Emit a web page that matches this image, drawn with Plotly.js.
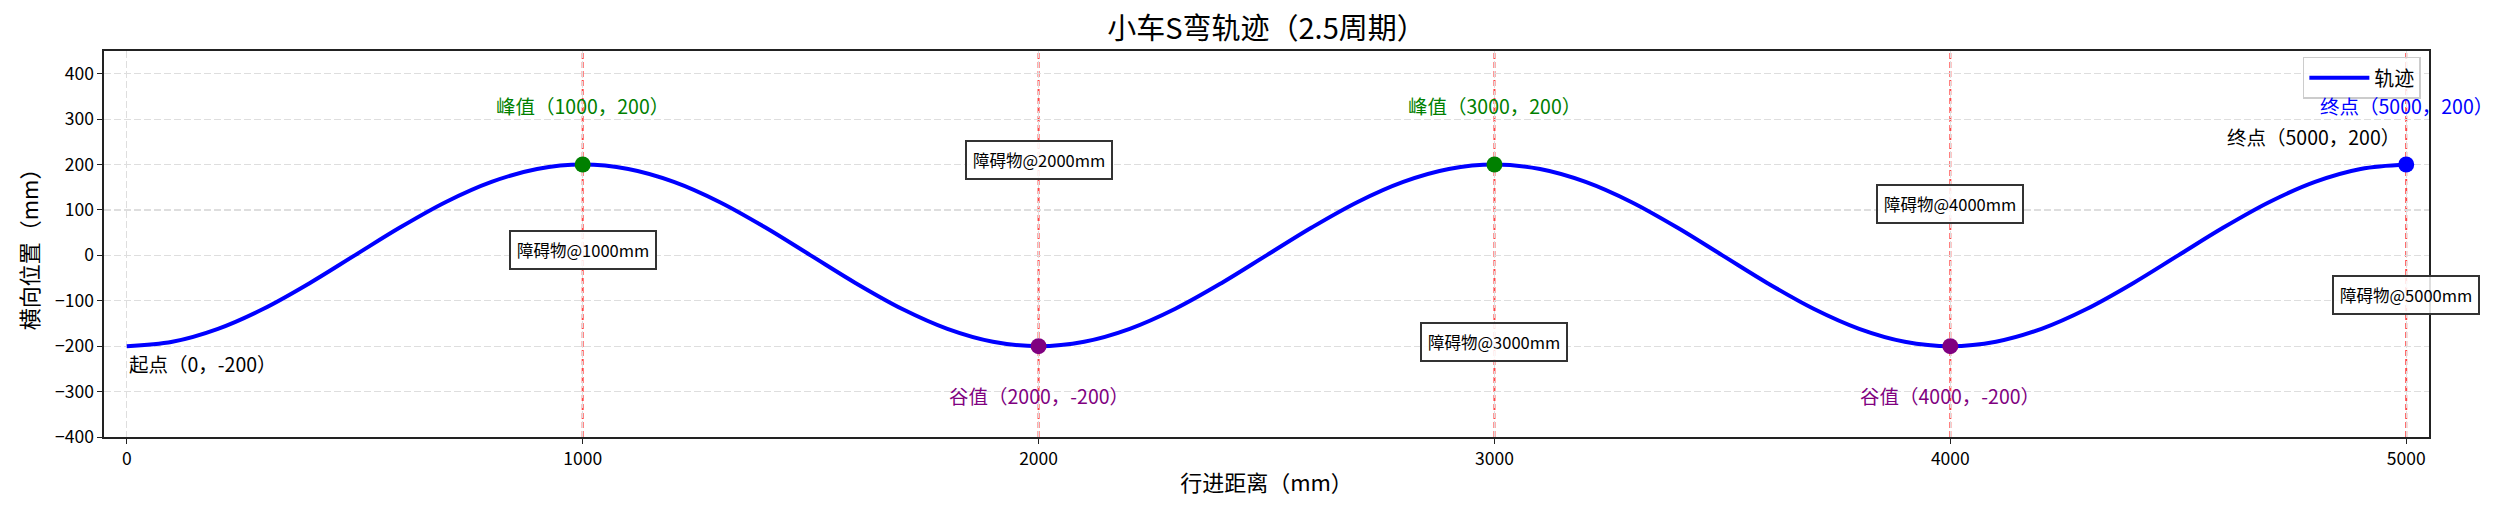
<!DOCTYPE html>
<html>
<head>
<meta charset="utf-8">
<script src="https://cdn.plot.ly/plotly-3.0.1.min.js"></script>
<style>html,body{margin:0;padding:0;background:#fff;}</style>
</head>
<body>
<div id="chart" style="width:2502px;height:517px;"></div>
<script>
// Trajectory samples (mm)
const trackX = [0,100,200,300,400,500,600,700,800,900,1000,1100,1200,1300,1400,1500,1600,1700,1800,1900,2000,2100,2200,2300,2400,2500,2600,2700,2800,2900,3000,3100,3200,3300,3400,3500,3600,3700,3800,3900,4000,4100,4200,4300,4400,4500,4600,4700,4800,4900,5000];
const trackY = [-200,-190.2,-161.8,-117.6,-61.8,0,61.8,117.6,161.8,190.2,200,190.2,161.8,117.6,61.8,0,-61.8,-117.6,-161.8,-190.2,-200,-190.2,-161.8,-117.6,-61.8,0,61.8,117.6,161.8,190.2,200,190.2,161.8,117.6,61.8,0,-61.8,-117.6,-161.8,-190.2,-200,-190.2,-161.8,-117.6,-61.8,0,61.8,117.6,161.8,190.2,200];

const peakX = [1000, 3000];
const peakY = [200, 200];
const valleyX = [2000, 4000];
const valleyY = [-200, -200];
const endX = [5000];
const endY = [200];

const obstacleX = [1000, 2000, 3000, 4000, 5000];
const obstacleLabelY = [12, 210, -190, 112, -88];
const obstacleLabels = ['障碍物@1000mm','障碍物@2000mm','障碍物@3000mm','障碍物@4000mm','障碍物@5000mm'];

const peakLabels = ['峰值（1000，200）','峰值（3000，200）'];
const peakLabelY = [331, 331];
const valleyLabels = ['谷值（2000，-200）','谷值（4000，-200）'];
const valleyLabelY = [-309, -309];

const xTicks = [0, 1000, 2000, 3000, 4000, 5000];
const yTicks = [-400, -300, -200, -100, 0, 100, 200, 300, 400];

const FONT = '"Noto Sans CJK SC", "Noto Sans", sans-serif';
const ANN = 19.5;

const traces = [
  {x: trackX, y: trackY, type: 'scatter', mode: 'lines', name: '轨迹',
   line: {color: '#0000ff', width: 4, shape: 'spline', smoothing: 1.0}},
  {x: peakX, y: peakY, type: 'scatter', mode: 'markers', showlegend: false,
   marker: {color: '#008000', size: 16}},
  {x: valleyX, y: valleyY, type: 'scatter', mode: 'markers', showlegend: false,
   marker: {color: '#800080', size: 16}},
  {x: endX, y: endY, type: 'scatter', mode: 'markers', showlegend: false,
   marker: {color: '#0000ff', size: 16}}
];

const shapes = obstacleX.map(x => ({
  type: 'line', xref: 'x', yref: 'paper', x0: x, x1: x, y0: 0, y1: 1,
  layer: 'below', line: {color: 'rgba(255,0,0,0.72)', width: 2, dash: '6px,3px'}
}));

const annotations = [];
obstacleX.forEach((x, i) => annotations.push({
  x: x, y: obstacleLabelY[i], xref: 'x', yref: 'y', text: obstacleLabels[i],
  showarrow: false, font: {family: FONT, size: 16.5, color: '#000'},
  bgcolor: 'rgba(255,255,255,0.85)', bordercolor: '#333', borderwidth: 2, borderpad: 6
}));
peakX.forEach((x, i) => annotations.push({
  x: x, y: peakLabelY[i], xref: 'x', yref: 'y', text: peakLabels[i], showarrow: false,
  font: {family: FONT, size: ANN, color: '#008000'}
}));
valleyX.forEach((x, i) => annotations.push({
  x: x, y: valleyLabelY[i], xref: 'x', yref: 'y', text: valleyLabels[i], showarrow: false,
  font: {family: FONT, size: ANN, color: '#800080'}
}));
annotations.push({x: 0, y: -239, xref: 'x', yref: 'y', text: '起点（0，-200）', showarrow: false,
  xanchor: 'left', font: {family: FONT, size: ANN, color: '#000'}});
annotations.push({x: 4990, y: 261, xref: 'x', yref: 'y', text: '终点（5000，200）', showarrow: false,
  xanchor: 'right', font: {family: FONT, size: ANN, color: '#000'}});
annotations.push({x: 5000, y: 331, xref: 'x', yref: 'y', text: '终点（5000，200）', showarrow: false,
  font: {family: FONT, size: ANN, color: '#0000ff'}});

const layout = {
  width: 2502, height: 517,
  margin: {l: 104, r: 73, t: 51, b: 80},
  paper_bgcolor: '#fff', plot_bgcolor: '#fff',
  font: {family: FONT, size: 17, color: '#000'},
  title: {text: '小车S弯轨迹（2.5周期）', x: 0.5, xref: 'paper', y: 1 - 29/517, yanchor: 'middle',
          font: {family: FONT, size: 29, color: '#000'}},
  xaxis: {
    range: [-50, 5050], tickvals: xTicks, ticktext: xTicks.map(String),
    showgrid: true, gridcolor: '#dedede', griddash: '7px,3px', gridwidth: 1.2,
    zeroline: false, showline: true, mirror: true, linecolor: '#222', linewidth: 1.6,
    ticks: 'outside', ticklen: 5, tickcolor: '#222', tickfont: {size: 17.5},
    title: {text: '行进距离（mm）', font: {size: 22}, standoff: 7}, automargin: false
  },
  yaxis: {
    range: [-400, 450], tickvals: yTicks, ticktext: yTicks.map(v => v < 0 ? '−' + Math.abs(v) : String(v)),
    showgrid: true, gridcolor: '#dedede', griddash: '7px,3px', gridwidth: 1.2,
    zeroline: false, showline: true, mirror: true, linecolor: '#222', linewidth: 1.6,
    ticks: 'outside', ticklen: 5, tickcolor: '#222', tickfont: {size: 17.5},
    title: {text: '横向位置（mm）', font: {size: 22}, standoff: 10}, automargin: false
  },
  showlegend: true,
  legend: {x: 0.9965, y: 0.985, xanchor: 'right', yanchor: 'top',
           bgcolor: 'rgba(255,255,255,0.8)', bordercolor: '#cccccc', borderwidth: 1.5,
           font: {size: 20}, itemwidth: 60},
  shapes: shapes,
  annotations: annotations
};

Plotly.newPlot('chart', traces, layout, {displayModeBar: false, staticPlot: true});
</script>
</body>
</html>
